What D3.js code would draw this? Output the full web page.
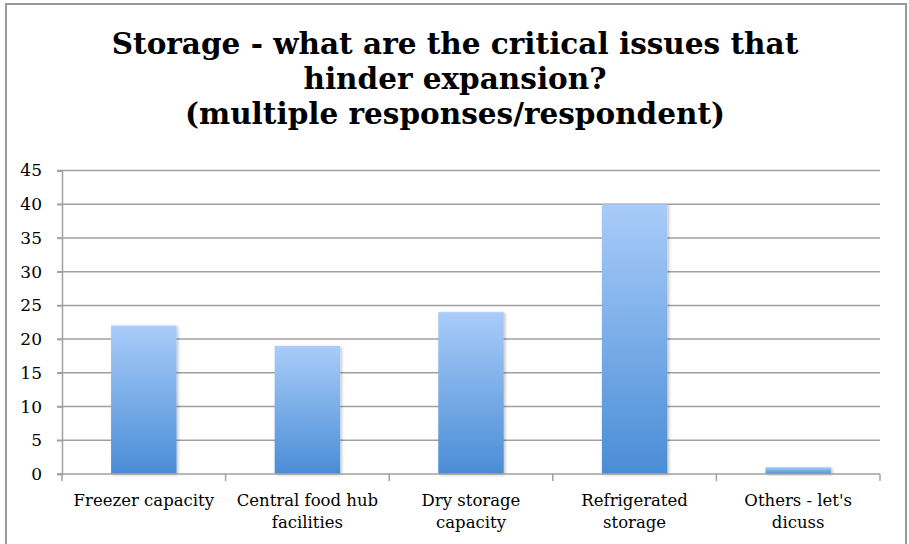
<!DOCTYPE html>
<html>
<head>
<meta charset="utf-8">
<script src="https://cdn.jsdelivr.net/npm/d3@7"></script>
<style>
  body { margin: 0; background: #fff; }
  svg { display: block; }
</style>
</head>
<body>
<div id="container"><svg></svg></div>
<script>
let width = 909;
let height = 544;

// data
let categories = ['Freezer capacity', 'Central food hub facilities', 'Dry storage capacity', 'Refrigerated storage', "Others - let's dicuss"];
let labelLines = [['Freezer capacity'], ['Central food hub', 'facilities'], ['Dry storage', 'capacity'], ['Refrigerated', 'storage'], ["Others - let's", 'dicuss']];
let values = [22, 19, 24, 40, 1];
let yTicks = [0, 5, 10, 15, 20, 25, 30, 35, 40, 45];
let titleLines = ['Storage - what are the critical issues that', 'hinder expansion?', '(multiple responses/respondent)'];

let fontFamily = "'DejaVu Serif', serif";
let padding = {left: 62, right: 29, top: 170.5, bottom: 70};

let svg = d3.select('#container').select('svg')
    .attr('width', width)
    .attr('height', height);

let defs = svg.append('defs');
let grad = defs.append('linearGradient')
    .attr('id', 'barGrad')
    .attr('x1', 0).attr('y1', 0).attr('x2', 0).attr('y2', 1);
grad.append('stop').attr('offset', '0%').attr('stop-color', '#a9ccf9');
grad.append('stop').attr('offset', '100%').attr('stop-color', '#4a8dd6');

let shadow = defs.append('filter').attr('id', 'shadow')
    .attr('x', '-10%').attr('y', '-10%').attr('width', '130%').attr('height', '130%');
shadow.append('feDropShadow')
    .attr('dx', 1.5).attr('dy', 1).attr('stdDeviation', 1.5)
    .attr('flood-color', '#000').attr('flood-opacity', 0.25);

// frame
svg.append('rect')
    .attr('x', 6).attr('y', 4)
    .attr('width', 900).attr('height', 560)
    .attr('fill', 'none')
    .attr('stroke', '#999')
    .attr('stroke-width', 2);

// title
svg.append('g')
    .selectAll('text')
    .data(titleLines)
    .enter().append('text')
    .attr('x', 455)
    .attr('y', (d, i) => 54 + i * 35)
    .attr('text-anchor', 'middle')
    .attr('font-family', fontFamily)
    .attr('font-weight', 'bold')
    .attr('font-size', '29.5px')
    .attr('fill', '#000')
    .text(d => d);

// scales
let x = d3.scaleBand()
    .domain(categories)
    .range([padding.left, width - padding.right])
    .paddingInner(0.6)
    .paddingOuter(0.3);

let xCat = d3.scaleBand()
    .domain(categories)
    .range([padding.left, width - padding.right]);

let y = d3.scaleLinear()
    .domain([0, 45])
    .range([height - padding.bottom, padding.top]);

// gridlines
svg.append('g')
    .selectAll('line')
    .data(yTicks.filter(d => d > 0))
    .enter().append('line')
    .attr('x1', padding.left - 5)
    .attr('x2', width - padding.right)
    .attr('y1', d => y(d))
    .attr('y2', d => y(d))
    .attr('stroke', '#a0a0a0')
    .attr('stroke-width', 1.5);

// bars
svg.append('g')
    .selectAll('rect')
    .data(values)
    .enter().append('rect')
    .attr('x', (d, i) => x(categories[i]))
    .attr('y', d => y(d))
    .attr('width', x.bandwidth())
    .attr('height', d => y(0) - y(d))
    .attr('fill', 'url(#barGrad)')
    .attr('filter', 'url(#shadow)');

// y axis
let axis_y = d3.axisLeft(y)
    .tickValues(yTicks)
    .tickSize(5)
    .tickPadding(15)
    .tickFormat(d => d);
let gy = svg.append('g')
    .attr('transform', `translate(${padding.left}, 0)`)
    .call(axis_y)
    .attr('font-family', fontFamily)
    .attr('font-size', '17px');
gy.select('.domain').attr('stroke', '#a0a0a0').attr('stroke-width', 1.5);
gy.selectAll('.tick line').attr('stroke', '#a0a0a0').attr('stroke-width', 1.5);
gy.selectAll('.tick text').attr('fill', '#000');

// x axis line and tick marks at category boundaries
let boundaries = categories.map(c => xCat(c)).concat([width - padding.right]);
svg.append('line')
    .attr('x1', padding.left - 5)
    .attr('x2', width - padding.right)
    .attr('y1', y(0)).attr('y2', y(0))
    .attr('stroke', '#a0a0a0').attr('stroke-width', 1.5);
svg.append('g')
    .selectAll('line')
    .data(boundaries)
    .enter().append('line')
    .attr('x1', d => d).attr('x2', d => d)
    .attr('y1', y(0)).attr('y2', y(0) + 7)
    .attr('stroke', '#a0a0a0').attr('stroke-width', 1.5);

// category labels
let labels = svg.append('g')
    .attr('font-family', fontFamily)
    .attr('font-size', '16.5px')
    .attr('text-anchor', 'middle');
labelLines.forEach((lines, i) => {
    let t = labels.append('text')
        .attr('x', xCat(categories[i]) + xCat.bandwidth() / 2)
        .attr('y', 506);
    lines.forEach((line, j) => {
        t.append('tspan')
            .attr('x', xCat(categories[i]) + xCat.bandwidth() / 2)
            .attr('dy', j === 0 ? 0 : 22)
            .text(line);
    });
});
</script>
</body>
</html>
